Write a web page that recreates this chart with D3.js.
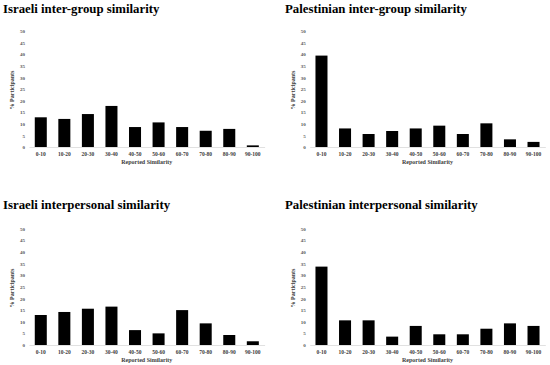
<!DOCTYPE html>
<html>
<head>
<meta charset="utf-8">
<script src="https://cdn.jsdelivr.net/npm/d3@7"></script>
<style>
  body { margin: 0; background: #fff; }
  text { font-family: "Liberation Serif", "Times New Roman", serif; }
</style>
</head>
<body>
<script>
// bins on the x axis
const bins = ["0-10", "10-20", "20-30", "30-40", "40-50", "50-60", "60-70", "70-80", "80-90", "90-100"]
const yTicks = [0, 5, 10, 15, 20, 25, 30, 35, 40, 45, 50]

// % participants per bin
const israeliInterGroup = [12.8, 12.1, 14.2, 17.7, 8.6, 10.6, 8.6, 7.0, 7.8, 0.7]
const palestinianInterGroup = [39.4, 8.0, 5.6, 6.9, 8.0, 9.2, 5.6, 10.2, 3.3, 2.2]
const israeliInterpersonal = [12.9, 14.2, 15.6, 16.5, 6.4, 5.0, 15.0, 9.3, 4.3, 1.6]
const palestinianInterpersonal = [33.7, 10.6, 10.6, 3.6, 8.2, 4.6, 4.6, 7.0, 9.3, 8.2]

const titles = ["Israeli inter-group similarity", "Palestinian inter-group similarity",
  "Israeli interpersonal similarity", "Palestinian interpersonal similarity"]
const series = [israeliInterGroup, palestinianInterGroup, israeliInterpersonal, palestinianInterpersonal]

let svg = d3.select("body").append("svg")
  .attr("width", 550)
  .attr("height", 365)

// one entry per panel: where the plot sits
let panels = [
  {x0: 29, x1: 264.6, y0: 147, y1: 31, tx: 3, ty: 13, ylab: 14},
  {x0: 309.7, x1: 545.3, y0: 147, y1: 31, tx: 285, ty: 13, ylab: 295},
  {x0: 29, x1: 264.6, y0: 345, y1: 228.7, tx: 3, ty: 209, ylab: 14},
  {x0: 309.7, x1: 545.3, y0: 345, y1: 228.7, tx: 285, ty: 209, ylab: 295}
]

panels.forEach((p, k) => {
  let g = svg.append("g")

  let x = d3.scaleBand()
    .domain(bins)
    .range([p.x0, p.x1])
    .paddingInner(0.49)
    .paddingOuter(0.245)

  let y = d3.scaleLinear()
    .domain([0, 50])
    .range([p.y0, p.y1])

  // title
  g.append("text")
    .attr("x", p.tx)
    .attr("y", p.ty)
    .attr("font-size", 12.8)
    .attr("font-weight", "bold")
    .attr("fill", "#000")
    .text(titles[k])

  // x axis
  let xa = g.append("g")
    .attr("transform", "translate(0," + p.y0 + ")")
    .call(d3.axisBottom(x).tickSize(0).tickPadding(5))
  xa.select(".domain").attr("stroke", "#d9d9d9").attr("stroke-width", 0.8)
  xa.selectAll("text")
    .attr("font-size", 5.5)
    .attr("font-weight", "bold")
    .attr("fill", "#404040")
    .style("font-family", "'Liberation Serif', serif")

  // y axis (labels only)
  let ya = g.append("g")
    .attr("transform", "translate(" + (p.x0 - 3) + ",0)")
    .call(d3.axisLeft(y).tickValues(yTicks).tickSize(0).tickPadding(1))
  ya.select(".domain").remove()
  ya.selectAll("text")
    .attr("font-size", 5)
    .attr("font-weight", "bold")
    .attr("fill", "#555")
    .style("font-family", "'Liberation Serif', serif")

  // bars
  g.append("g")
    .selectAll("rect")
    .data(series[k])
    .enter()
    .append("rect")
    .attr("x", (d, i) => x(bins[i]))
    .attr("y", d => y(d))
    .attr("width", x.bandwidth())
    .attr("height", d => p.y0 - y(d))
    .attr("fill", "#000")

  // axis titles
  g.append("text")
    .attr("x", (p.x0 + p.x1) / 2)
    .attr("y", p.y0 + 17)
    .attr("text-anchor", "middle")
    .attr("font-size", 6)
    .attr("font-weight", "bold")
    .attr("fill", "#404040")
    .text("Reported Similarity")

  g.append("text")
    .attr("transform", "translate(" + p.ylab + "," + (p.y0 - 57) + ") rotate(-90)")
    .attr("text-anchor", "middle")
    .attr("font-size", 6)
    .attr("font-weight", "bold")
    .attr("fill", "#404040")
    .text("% Participants")
})
</script>
</body>
</html>
